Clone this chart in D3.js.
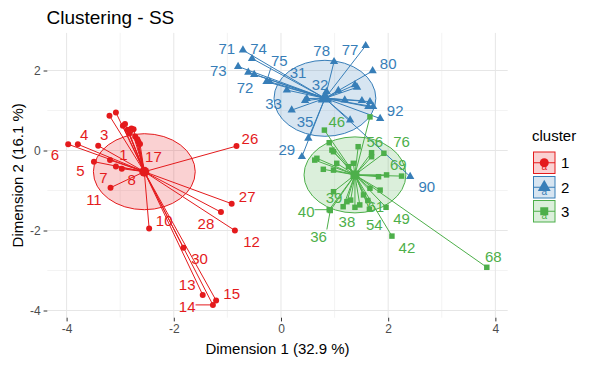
<!DOCTYPE html>
<html><head><meta charset="utf-8">
<script src="https://cdn.jsdelivr.net/npm/d3@7"></script>
<style>body{margin:0;background:#fff}</style>
</head><body><svg id="c" width="595" height="365"></svg>
<script>
// ---------- data ----------
const clusterNames = ["1", "2", "3"];
const centerX = [-2.55, 0.82, 1.38];
const centerY = [-0.53, 1.305, -0.61];
const ellipseRadius = [0.95, 0.95, 0.95];

const cluster1Id = [1,2,3,4,5,6,7,8,9,10,11,12,13,14,15,16,17,18,19,20,21,22,23,24,25,26,27,28,30];
const cluster1X = [-3.19,-3.20,-3.41,-3.79,-3.49,-3.97,-3.08,-2.97,-3.08,-2.46,-3.18,-0.86,-1.46,-1.27,-1.21,-2.95,-2.63,-2.91,-2.86,-2.79,-2.75,-2.83,-2.72,-2.68,-2.66,-0.83,-0.92,-1.12,-1.82];
const cluster1Y = [-0.24,0.87,0.12,0.155,-0.28,0.155,-0.40,-0.455,0.95,-1.95,-0.93,-2.00,-3.61,-3.86,-3.75,0.62,0.16,0.66,0.52,0.55,0.53,0.43,0.35,0.28,0.22,0.11,-1.33,-1.54,-2.43];

const cluster2Id = [29,31,32,33,34,35,37,70,71,72,73,74,75,77,78,79,80,81,82,83,84,85,86,87,88,90,91,92];
const cluster2X = [0.39,0.11,0.85,0.20,0.45,0.51,-0.50,-0.21,-0.71,-0.61,-0.80,-0.54,-0.27,1.58,0.99,1.07,1.71,1.38,1.42,1.51,1.66,1.63,1.72,1.29,1.19,2.41,0.48,1.85];
const cluster2Y = [-0.155,1.51,1.47,1.01,1.245,0.305,1.90,1.72,2.51,1.955,2.10,2.30,1.72,2.62,2.22,1.50,1.99,1.64,1.58,1.245,1.22,1.095,1.095,0.76,1.26,-0.65,1.30,0.80];

const cluster3Id = [36,38,39,40,41,42,43,44,45,46,47,48,49,50,51,52,53,54,55,56,57,58,59,60,61,62,63,64,65,66,67,68,69,76,89];
const cluster3X = [0.92,1.38,1.30,0.90,0.90,2.07,0.63,0.67,0.95,0.81,0.98,0.79,1.96,1.04,1.69,1.69,1.35,1.65,1.97,1.44,1.82,1.66,1.85,1.54,1.62,1.23,1.16,1.47,0.98,1.26,0.98,3.84,2.25,1.92,1.66];
const cluster3Y = [-1.50,-1.42,-1.24,-1.48,0.195,-2.14,-0.24,-0.195,0.01,0.51,-0.03,-0.47,-1.42,-0.32,-0.055,-0.155,-0.32,-1.47,-0.61,0.095,-0.655,-0.945,-0.99,-1.11,-1.25,-1.28,-1.405,-1.36,-0.49,-0.405,-1.03,-2.92,-0.64,-0.07,0.84];

const labelId = [6,4,3,5,7,1,8,11,17,26,27,28,12,10,30,13,14,15,
  71,74,73,72,75,31,32,33,35,29,78,77,80,92,90,
  46,56,76,69,39,40,36,38,54,61,49,42,68];
const labelX = [-4.22,-3.67,-3.30,-3.74,-3.315,-2.94,-2.785,-3.49,-2.38,-0.58,-0.63,-1.40,-0.55,-2.18,-1.52,-1.75,-1.75,-0.92,
  -1.01,-0.42,-1.17,-0.67,-0.03,0.32,0.73,-0.14,0.45,0.11,0.76,1.29,2.00,2.13,2.72,
  1.04,1.75,2.25,2.19,0.99,0.47,0.70,1.23,1.74,1.77,2.25,2.35,3.96];
const labelY = [-0.09,0.41,0.41,-0.51,-0.67,-0.095,-0.72,-1.22,-0.155,0.305,-1.14,-1.82,-2.28,-1.74,-2.71,-3.36,-3.90,-3.57,
  2.55,2.55,2.00,1.58,2.24,1.945,1.64,1.18,0.72,0.03,2.50,2.53,2.18,0.995,-0.89,
  0.72,0.22,0.22,-0.36,-1.17,-1.53,-2.14,-1.78,-1.86,-1.40,-1.70,-2.42,-2.655];

const xTicks = [-4, -2, 0, 2, 4];
const yTicks = [-4, -2, 0, 2];
const xMinor = [-3, -1, 1, 3];
const yMinor = [-3, -1, 1];
const xDomain = [-4.36, 4.23];
const yDomain = [-4.18, 2.94];
const titleText = "Clustering - SS";
const xTitle = "Dimension 1 (32.9 %)";
const yTitle = "Dimension 2 (16.1 %)";
const legendTitle = "cluster";

// ---------- layout ----------
const colors = ["#E41A1C", "#377EB8", "#4DAF4A"];
const panel = {left: 47.3, right: 507.7, top: 32.9, bottom: 317.7};
const font = "'Liberation Sans', Arial, sans-serif";
const svg = d3.select("#c").style("font-family", font);
svg.append("rect").attr("width", 595).attr("height", 365).attr("fill", "#fff");

const x = d3.scaleLinear().domain(xDomain).range([panel.left, panel.right]);
const y = d3.scaleLinear().domain(yDomain).range([panel.bottom, panel.top]);

const points = [];
[[cluster1Id, cluster1X, cluster1Y], [cluster2Id, cluster2X, cluster2Y], [cluster3Id, cluster3X, cluster3Y]]
  .forEach(([ids, xs, ys], c) => ids.forEach((id, i) => points.push({id, x: xs[i], y: ys[i], c})));
const byId = new Map(points.map(p => [p.id, p]));

// grid
const grid = svg.append("g");
grid.selectAll(".vx").data(xMinor).join("line").attr("class","vx")
  .attr("x1", d => x(d)).attr("x2", d => x(d)).attr("y1", panel.top).attr("y2", panel.bottom)
  .attr("stroke", "#f0f0f0").attr("stroke-width", 0.8);
grid.selectAll(".hy").data(yMinor).join("line").attr("class","hy")
  .attr("y1", d => y(d)).attr("y2", d => y(d)).attr("x1", panel.left).attr("x2", panel.right)
  .attr("stroke", "#f0f0f0").attr("stroke-width", 0.8);
grid.selectAll(".mx").data(xTicks).join("line").attr("class","mx")
  .attr("x1", d => x(d)).attr("x2", d => x(d)).attr("y1", panel.top).attr("y2", panel.bottom)
  .attr("stroke", "#e6e6e6").attr("stroke-width", 1);
grid.selectAll(".my").data(yTicks).join("line").attr("class","my")
  .attr("y1", d => y(d)).attr("y2", d => y(d)).attr("x1", panel.left).attr("x2", panel.right)
  .attr("stroke", "#e6e6e6").attr("stroke-width", 1);

// axes
const xAxis = svg.append("g").attr("transform", `translate(0,${panel.bottom})`)
  .call(d3.axisBottom(x).tickValues(xTicks).tickSize(3.7).tickPadding(3).tickFormat(d => d < 0 ? "-" + Math.abs(d) : String(d)));
const yAxis = svg.append("g").attr("transform", `translate(${panel.left},0)`)
  .call(d3.axisLeft(y).tickValues(yTicks).tickSize(3.7).tickPadding(3).tickFormat(d => d < 0 ? "-" + Math.abs(d) : String(d)));
[xAxis, yAxis].forEach(a => {
  a.select(".domain").remove();
  a.selectAll(".tick line").attr("stroke", "#333").attr("stroke-width", 1);
  a.selectAll(".tick text").attr("fill", "#4d4d4d").style("font-size", "12px").style("font-family", font);
});

// ellipses (circles in data units)
const ell = svg.append("g");
clusterNames.forEach((n, i) => {
  ell.append("ellipse")
    .attr("cx", x(centerX[i])).attr("cy", y(centerY[i]))
    .attr("rx", x(centerX[i] + ellipseRadius[i]) - x(centerX[i]))
    .attr("ry", y(centerY[i]) - y(centerY[i] + ellipseRadius[i]))
    .attr("fill", colors[i]).attr("fill-opacity", 0.2)
    .attr("stroke", colors[i]).attr("stroke-width", 1);
});

// star lines
svg.append("g").selectAll("line").data(points).join("line")
  .attr("x1", d => x(centerX[d.c])).attr("y1", d => y(centerY[d.c]))
  .attr("x2", d => x(d.x)).attr("y2", d => y(d.y))
  .attr("stroke", d => colors[d.c]).attr("stroke-width", 1);

// markers
const symTypes = [d3.symbolCircle, d3.symbolTriangle, d3.symbolSquare];
const symSize = [28, 30, 30];
const symSizeC = [80, 90, 80];
svg.append("g").selectAll("path").data(points).join("path")
  .attr("transform", d => `translate(${x(d.x)},${y(d.y)})`)
  .attr("d", d => d3.symbol().type(symTypes[d.c]).size(symSize[d.c])())
  .attr("fill", d => colors[d.c]);
svg.append("g").selectAll("path").data(clusterNames).join("path")
  .attr("transform", (d, i) => `translate(${x(centerX[i])},${y(centerY[i])})`)
  .attr("d", (d, i) => d3.symbol().type(symTypes[i]).size(symSizeC[i])())
  .attr("fill", (d, i) => colors[i]);

// labels
const labels = labelId.map((id, i) => ({id, lx: labelX[i], ly: labelY[i], p: byId.get(id)})).filter(l => l.p);
const segG = svg.append("g");
const labG = svg.append("g");
labels.forEach(l => {
  const t = labG.append("text")
    .attr("x", x(l.lx)).attr("y", y(l.ly)).attr("dy", "0.36em")
    .attr("text-anchor", "middle").attr("fill", colors[l.p.c])
    .style("font-size", "15px").text(l.id);
  const bb = t.node().getBBox();
  const px = x(l.p.x), py = y(l.p.y);
  const cx = Math.max(bb.x, Math.min(px, bb.x + bb.width));
  const cy = Math.max(bb.y + 2, Math.min(py, bb.y + bb.height - 2));
  const gap = Math.hypot(px - cx, py - cy);
  if (gap > 14) {
    segG.append("line").attr("x1", cx).attr("y1", cy).attr("x2", px).attr("y2", py)
      .attr("stroke", colors[l.p.c]).attr("stroke-width", 1);
  }
});

// titles
svg.append("text").attr("x", 46.5).attr("y", 23.5).style("font-size", "19px").attr("fill", "#000").text(titleText);
svg.append("text").attr("x", (panel.left + panel.right) / 2).attr("y", 354)
  .attr("text-anchor", "middle").style("font-size", "15px").attr("fill", "#000").text(xTitle);
svg.append("text").attr("transform", `translate(23,${(panel.top + panel.bottom) / 2}) rotate(-90)`)
  .attr("text-anchor", "middle").style("font-size", "15px").attr("fill", "#000").text(yTitle);

// legend
const lg = svg.append("g");
lg.append("text").attr("x", 532).attr("y", 141).style("font-size", "15px").attr("fill", "#000").text(legendTitle);
const keyTop = [152, 176.5, 200.5];
clusterNames.forEach((n, i) => {
  const k = lg.append("g").attr("transform", `translate(533.5,${keyTop[i]})`);
  k.append("rect").attr("width", 21.5).attr("height", 21.5)
    .attr("fill", colors[i]).attr("fill-opacity", 0.2)
    .attr("stroke", colors[i]).attr("stroke-width", 1);
  k.append("line").attr("x1", 0).attr("x2", 21.5).attr("y1", 10.75).attr("y2", 10.75)
    .attr("stroke", colors[i]).attr("stroke-width", 1);
  k.append("text").attr("x", 10.75).attr("y", 18).attr("text-anchor", "middle")
    .style("font-size", "10px").attr("fill", colors[i]).text("a");
  k.append("path").attr("transform", "translate(10.75,10.75)")
    .attr("d", d3.symbol().type(symTypes[i]).size(symSizeC[i] * 0.8)())
    .attr("fill", colors[i]);
  lg.append("text").attr("x", 561).attr("y", keyTop[i] + 16).style("font-size", "15px")
    .attr("fill", "#000").text(n);
});
</script>
</body></html>
